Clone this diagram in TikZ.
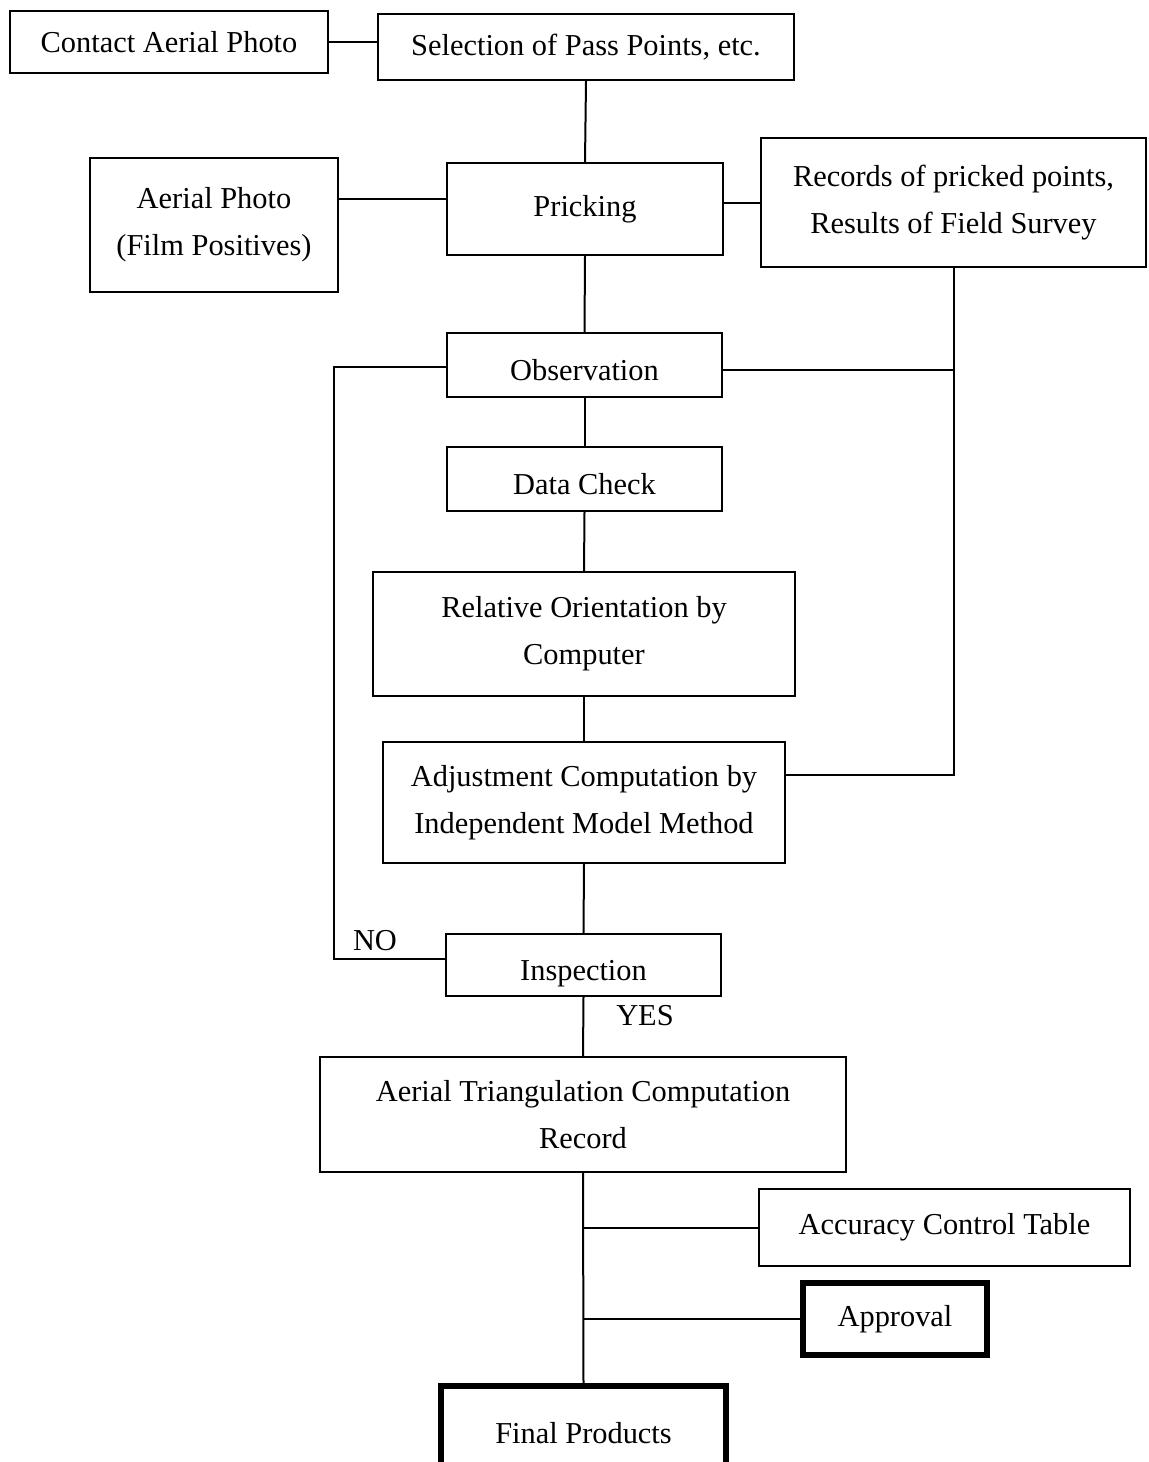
\documentclass[tikz,border=0pt]{standalone}
\usepackage{fontspec}
\setmainfont{Liberation Serif}
\begin{document}
\begin{tikzpicture}[x=0.5pt,y=-0.5pt,
  box/.style={draw, line width=1pt, align=center, inner sep=0pt, font=\fontsize{15.2}{23.5}\selectfont},
  heavybox/.style={box, line width=2.8pt},
  lowtext/.style={text height=19pt, text depth=3.5pt},
  tag/.style={inner sep=0pt, font=\fontsize{15.2}{23.5}\selectfont},
  link/.style={line width=1pt}]
\useasboundingbox (0,0) rectangle (1148,1462);
\clip (0,0) rectangle (1148,1462);
% boxes
\node[box, minimum width=159pt, minimum height=31pt] (contact) at (169,42) {Contact Aerial Photo};
\node[box, minimum width=208pt, minimum height=33pt] (select) at (586,47) {Selection of Pass Points, etc.};
\node[box, minimum width=124pt, minimum height=67pt] (photo) at (214,225) {Aerial Photo\\(Film Positives)};
\node[box, minimum width=138pt, minimum height=46pt] (pricking) at (585,209) {Pricking};
\node[box, minimum width=192.5pt, minimum height=64.5pt] (records) at (953.5,202.5) {Records of pricked points,\\Results of Field Survey};
\node[box, lowtext, minimum width=137.5pt, minimum height=32pt] (obs) at (584.5,365) {Observation};
\node[box, lowtext, minimum width=137.5pt, minimum height=32pt] (check) at (584.5,479) {Data Check};
\node[box, minimum width=211pt, minimum height=62pt] (relor) at (584,634) {Relative Orientation by\\Computer};
\node[box, minimum width=201pt, minimum height=60.5pt] (adjust) at (584,802.5) {Adjustment Computation by\\Independent Model Method};
\node[box, lowtext, minimum width=137.5pt, minimum height=31pt] (insp) at (583.5,965) {Inspection};
\node[box, minimum width=263pt, minimum height=57.5pt] (atc) at (583,1114.5) {Aerial Triangulation Computation\\Record};
\node[box, minimum width=185.5pt, minimum height=38.5pt] (acc) at (944.5,1227.5) {Accuracy Control Table};
\node[heavybox, minimum width=92pt, minimum height=36pt] (appr) at (895,1319) {Approval};
\node[heavybox, minimum width=142.5pt, minimum height=47pt] (final) at (583.5,1433) {Final Products};
% labels
\node[tag] (nolabel) at (375,941) {NO};
\node[tag] (yeslabel) at (645,1016) {YES};
\coordinate (noturn) at (334,959);
% connectors
\draw[link] (contact.east) -- (contact.east -| select.west);
\draw[link] (select.south) -- (pricking.north);
\draw[link] ([yshift=5pt]pricking.west) -- ([yshift=5pt]pricking.west -| photo.east);
\draw[link] (pricking.east |- records.west) -- (records.west);
\draw[link] (pricking.south) -- (obs.north);
\draw[link] (obs.south) -- (check.north);
\draw[link] (check.south) -- (relor.north);
\draw[link] (relor.south) -- (adjust.north);
\draw[link] (adjust.south) -- (insp.north);
\draw[link] (insp.south) -- (atc.north);
\draw[link] (atc.south) -- (final.north);
\draw[link] (records.south) -- ([yshift=13.75pt]adjust.east -| records.south) -- ([yshift=13.75pt]adjust.east);
\draw[link] ([yshift=-2.5pt]obs.east) -- ([yshift=-2.5pt]obs.east -| records.south);
\draw[link] ([yshift=3pt]insp.west) -- (noturn) |- ([yshift=-1pt]obs.west);
\draw[link] (atc.south |- acc.west) -- (acc.west);
\draw[link] (atc.south |- appr.west) -- (appr.west);
\end{tikzpicture}
\end{document}
